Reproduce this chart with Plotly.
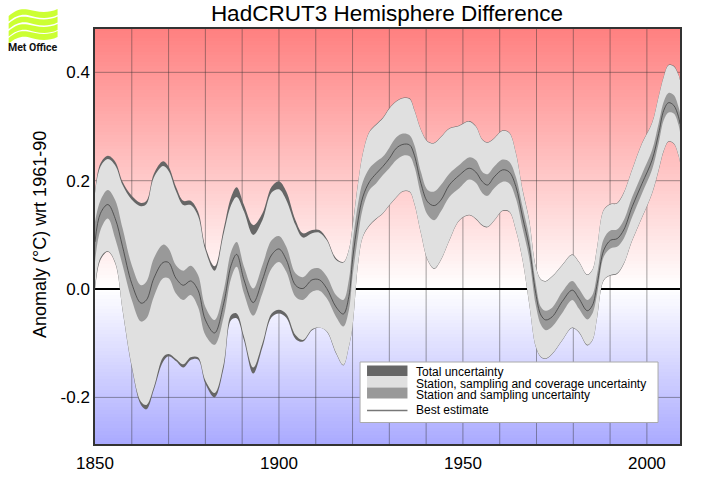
import numpy as np
import plotly.graph_objs as go

WIDTH = 708
HEIGHT = 504

years = [1850, 1851.5, 1853.5, 1855.5, 1857.5, 1860, 1862.5, 1864, 1866, 1868.5, 1870, 1872, 1874, 1876, 1878, 1880,
         1882.5, 1885, 1887, 1888.5, 1890.5, 1893, 1895.5, 1898, 1900, 1902, 1904.5, 1906.5, 1909, 1911, 1913, 1915.5,
         1917.5, 1919, 1920, 1921.5, 1922.8, 1924.6, 1926.4, 1928.2, 1930, 1931.9, 1933.7, 1935.5, 1936.8, 1938.6,
         1940.4, 1942.2, 1944, 1946.3, 1949, 1951.7, 1953.5, 1955.3, 1956.7, 1958.5, 1960.8, 1962.6, 1964.4, 1966.2,
         1968, 1969.8, 1971.2, 1972.5, 1974.3, 1977, 1979.7, 1981.5, 1983.8, 1985.2, 1986.5, 1988.3, 1990.1, 1991.9,
         1993.7, 1996, 1998.7, 2001.4, 2003.2, 2004.6, 2005.9, 2007.3, 2008.6, 2009]

best = [.087, .140, .156, .130, .078, .010, -.026, -.020, .020, .049, .049, .020, .007, .015, -.002, -.057,
        -.081, -.026, .044, .064, .017, -.025, .017, .063, .074, .054, .007, .001, .017, .017, .001, -.033,
        -.046, -.014, .054, .127, .170, .198, .213, .226, .241, .260, .267, .266, .247, .195,
        .161, .154, .164, .192, .210, .223, .216, .198, .192, .207, .220, .216, .189, .133,
        .078, -.008, -.048, -.057, -.051, -.023, -.002, -.017, -.040, -.030, .010, .072, .090, .093,
        .109, .152, .195, .238, .287, .330, .344, .339, .318, .305]

station_up = [.124, .164, .183, .164, .112, .044, .007, .014, .057, .082, .075, .044, .034, .043, .026, -.033,
              -.057, -.002, .069, .087, .041, .001, .044, .090, .098, .078, .029, .022, .037, .038, .023, -.011,
              -.020, .017, .084, .158, .198, .223, .235, .244, .261, .280, .287, .284, .266, .216,
              .183, .180, .192, .213, .229, .243, .238, .216, .212, .226, .239, .235, .207, .152,
              .097, .010, -.033, -.040, -.034, -.005, .015, .001, -.020, -.011, .029, .093, .108, .110,
              .127, .170, .213, .256, .306, .346, .362, .358, .336, .325]

station_low = [.050, .109, .130, .093, .044, -.020, -.060, -.054, -.014, .020, .020, -.008, -.020, -.011, -.033, -.085,
               -.103, -.051, .020, .041, -.008, -.049, -.008, .038, .050, .032, -.014, -.020, -.005, -.003, -.017, -.051,
               -.069, -.039, .023, .097, .149, .183, .195, .210, .223, .238, .246, .245, .226, .173,
               .137, .127, .143, .170, .186, .202, .196, .177, .172, .186, .198, .195, .167, .112,
               .057, -.030, -.066, -.076, -.069, -.044, -.020, -.036, -.056, -.045, -.008, .060, .075, .078,
               .093, .133, .177, .220, .269, .312, .326, .324, .303, .290]

coverage_up = [.177, .226, .240, .228, .192, .165, .153, .157, .206, .227, .218, .181, .155, .155, .135, .072,
               .034, .103, .155, .170, .143, .100, .127, .178, .184, .164, .118, .095, .103, .104, .090, .054,
               .049, .072, .115, .195, .250, .290, .303, .315, .333, .346, .352, .351, .330, .293,
               .272, .269, .280, .296, .301, .309, .300, .275, .270, .278, .292, .288, .250, .183,
               .127, .041, .017, .014, .023, .044, .063, .050, .026, .035, .078, .146, .156, .158,
               .177, .220, .269, .306, .355, .392, .413, .411, .395, .385]

coverage_low = [.002, .058, .070, .049, -.038, -.142, -.208, -.214, -.181, -.126, -.120, -.129, -.139, -.126, -.126, -.169,
                -.192, -.137, -.048, -.045, -.088, -.145, -.100, -.045, -.038, -.046, -.085, -.094, -.074, -.071, -.078, -.117,
                -.140, -.106, -.069, .047, .097, .118, .130, .140, .155, .170, .181, .180, .158, .103,
                .054, .038, .054, .090, .127, .137, .130, .118, .115, .127, .145, .143, .109, .054,
                -.026, -.106, -.125, -.128, -.119, -.094, -.071, -.079, -.103, -.094, -.051, .017, .026, .029,
                .047, .090, .133, .177, .220, .256, .273, .269, .247, .235]

total_up = [.180, .232, .246, .235, .198, .172, .159, .163, .213, .236, .226, .189, .163, .163, .143, .078,
            .042, .112, .170, .188, .155, .118, .140, .189, .199, .180, .127, .103, .109, .109, .093, .057,
            .050, .073, .116, .196, .251, .291, .304, .316, .334, .347, .353, .352, .331, .294,
            .273, .270, .281, .297, .302, .310, .301, .276, .271, .279, .293, .289, .251, .184,
            .128, .042, .018, .015, .024, .045, .064, .051, .027, .036, .079, .147, .157, .159,
            .178, .221, .270, .307, .356, .393, .414, .412, .396, .386]

total_low = [-.002, .054, .069, .047, -.040, -.145, -.214, -.222, -.186, -.134, -.124, -.133, -.145, -.131, -.130, -.175,
             -.200, -.145, -.057, -.054, -.095, -.156, -.108, -.052, -.045, -.053, -.092, -.097, -.076, -.071, -.079, -.119,
             -.141, -.107, -.070, .046, .096, .117, .129, .139, .154, .169, .180, .179, .157, .102,
             .053, .037, .053, .089, .126, .136, .129, .117, .114, .126, .144, .142, .108, .053,
             -.027, -.107, -.126, -.129, -.120, -.095, -.072, -.080, -.104, -.095, -.052, .016, .025, .028,
             .046, .089, .132, .176, .219, .255, .272, .268, .246, .234]

decades = [1850, 1860, 1870, 1880, 1890, 1900, 1910, 1920, 1930, 1940, 1950, 1960, 1970, 1980, 1990, 2000]
x_ticks = [1850, 1900, 1950, 2000]
y_ticks = [-0.2, 0.0, 0.2, 0.4]
y_grid = [-0.2, 0.2, 0.4]

legend_labels = ["Total uncertainty", "Station, sampling and coverage uncertainty",
                 "Station and sampling uncertainty", "Best estimate"]

XMIN, XMAX = 1850, 2009
YMIN, YMAX = -0.286, 0.48

DARK = "#666666"
LIGHT = "#e0e0e0"
MID = "#999999"
LIME = "#ccff33"

L, R, T, B = 94.5, 680.5, 29, 444


def px(x):
    # paper coordinates run over the plot area, not the page
    return (x - L) / (R - L)


def py(y):
    return (B - y) / (B - T)


def band(upper, lower, color):
    # lower edge first, then fill up to the upper edge
    lo = go.Scatter(x=years, y=lower, mode="lines", line=dict(width=0, shape="spline", smoothing=1, color=color),
                    showlegend=False, hoverinfo="skip")
    up = go.Scatter(x=years, y=upper, mode="lines", line=dict(width=0, shape="spline", smoothing=1, color=color),
                    fill="tonexty", fillcolor=color, showlegend=False, hoverinfo="skip")
    return [lo, up]


grid_rows = np.linspace(YMIN, YMAX, 120)
background = go.Heatmap(x=[XMIN, XMAX], y=grid_rows, z=[[v, v] for v in grid_rows], zmin=YMIN, zmax=YMAX,
                        colorscale=[[0, "#aaaaff"], [-YMIN / (YMAX - YMIN), "#ffffff"], [1, "#ff8080"]],
                        showscale=False, hoverinfo="skip")

grid_x, grid_y = [], []
for d in decades[1:]:
    grid_x += [d, d, None]
    grid_y += [YMIN, YMAX, None]
for v in y_grid:
    grid_x += [XMIN, XMAX, None]
    grid_y += [v, v, None]
grid = go.Scatter(x=grid_x, y=grid_y, mode="lines", line=dict(color="rgba(50,50,50,0.45)", width=1),
                  showlegend=False, hoverinfo="skip")
zero = go.Scatter(x=[XMIN, XMAX], y=[0, 0], mode="lines", line=dict(color="black", width=2),
                  showlegend=False, hoverinfo="skip")

data = [background, grid, zero]
data += band(total_up, total_low, DARK)
data += band(coverage_up, coverage_low, LIGHT)
data += band(station_up, station_low, MID)
data.append(go.Scatter(x=years, y=best, mode="lines", line=dict(color="#404040", width=0.8, shape="spline", smoothing=1),
                       showlegend=False, hoverinfo="skip"))

shapes = []


def rect(x0, y0, x1, y1, color, line=None):
    shapes.append(dict(type="rect", xref="paper", yref="paper", x0=px(x0), x1=px(x1), y0=py(y0), y1=py(y1),
                       fillcolor=color, line=dict(width=0 if line is None else 1, color=line or color)))


# legend box drawn by hand, the swatches touch each other in the original
rect(360, 362, 658.5, 422.5, "white", "#aaaaaa")
rect(367, 365.5, 407.5, 376, DARK)
rect(367, 376, 407.5, 387.5, LIGHT)
rect(367, 387.5, 407.5, 398.5, MID)
shapes.append(dict(type="line", xref="paper", yref="paper", x0=px(367), x1=px(407.5), y0=py(410.5), y1=py(410.5),
                   line=dict(color="#777777", width=1.5)))


def wave(dy):
    pts = "M %f %f C %f %f %f %f %f %f C %f %f %f %f %f %f L %f %f C %f %f %f %f %f %f C %f %f %f %f %f %f Z" % (
        px(8), py(16 + dy),
        px(15), py(10 + dy), px(20), py(8.5 + dy), px(27), py(9.5 + dy),
        px(35), py(11 + dy), px(45), py(14.5 + dy), px(57), py(9 + dy),
        px(57), py(15 + dy),
        px(45), py(20.5 + dy), px(35), py(17 + dy), px(27), py(15 + dy),
        px(20), py(14 + dy), px(15), py(16 + dy), px(8), py(21.5 + dy))
    return dict(type="path", xref="paper", yref="paper", path=pts, fillcolor=LIME, line=dict(width=0))


for dy in [0, 7.5, 15, 22]:
    shapes.append(wave(dy))

annotations = [
    dict(text="<b>Met Office</b>", x=px(32), y=py(47.5), xref="paper", yref="paper", showarrow=False,
         font=dict(family="Roboto", size=10.5, color="#111111"), xanchor="center", yanchor="middle"),
    dict(text="Anomaly (°C) wrt 1961-90", x=px(40), y=py(234.5), xref="paper", yref="paper", showarrow=False,
         textangle=-90, font=dict(size=18, color="black"), xanchor="center", yanchor="middle"),
]
for label, ty in zip(legend_labels, [372, 383.5, 394.5, 410]):
    annotations.append(dict(text=label, x=px(415), y=py(ty), xref="paper", yref="paper", showarrow=False,
                            font=dict(family="Liberation Sans", size=12, color="black"),
                            xanchor="left", yanchor="middle", borderpad=0))

layout = go.Layout(
    width=WIDTH,
    height=HEIGHT,
    paper_bgcolor="white",
    plot_bgcolor="white",
    margin=dict(l=L, r=WIDTH - R, t=T, b=HEIGHT - B, pad=0),
    font=dict(family="Liberation Sans", color="black"),
    title=dict(text="HadCRUT3 Hemisphere Difference", x=387 / WIDTH, xanchor="center", y=1 - 13 / HEIGHT, yanchor="middle",
               font=dict(size=22.5, color="black")),
    xaxis=dict(range=[XMIN, XMAX], tickvals=x_ticks, ticktext=[str(t) for t in x_ticks], showgrid=False, zeroline=False,
               showline=True, mirror=True, linecolor="#333333", linewidth=1.5, ticks="", tickfont=dict(size=17),
               ticklabelstandoff=3),
    yaxis=dict(range=[YMIN, YMAX], tickvals=y_ticks, ticktext=["%.1f" % t for t in y_ticks], showgrid=False, zeroline=False,
               showline=True, mirror=True, linecolor="#333333", linewidth=1.5, ticks="", tickfont=dict(size=17)),
    shapes=shapes,
    annotations=annotations,
    showlegend=False,
)

fig = go.Figure(data=data, layout=layout)
fig.write_html("out.html", config={"displayModeBar": False}, post_script="document.body.style.margin='0';")
